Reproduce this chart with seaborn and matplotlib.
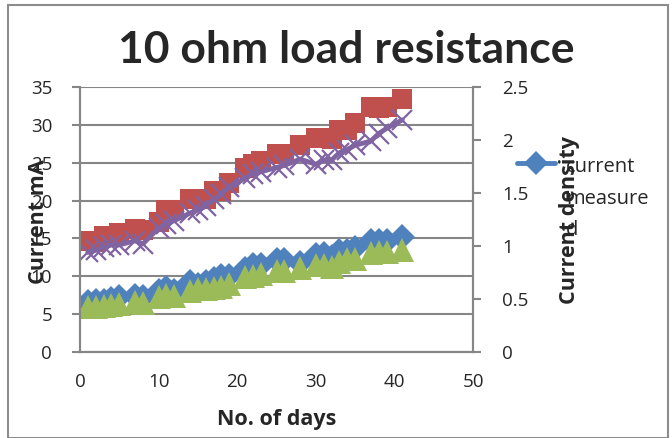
import matplotlib
matplotlib.use("Agg")
import matplotlib.pyplot as plt
import seaborn as sns
import pandas as pd
from matplotlib.lines import Line2D
from matplotlib.patches import Rectangle

# Daily readings for the 10 ohm load
days = [1, 2, 3, 4, 5, 7, 8, 10, 11, 12, 14, 15, 16, 17, 18, 19, 21, 22, 23,
        25, 26, 28, 30, 31, 32, 33, 34, 35, 37, 38, 39, 41]

# Current in mA (left axis)
current_measured = [6.6, 6.8, 6.7, 7.0, 7.2, 7.4, 7.3, 8.0, 8.4, 8.0, 9.2, 8.9,
                    9.2, 9.6, 10.0, 10.1, 11.0, 11.5, 11.5, 12.1, 12.1, 11.7,
                    12.8, 13.0, 12.6, 13.3, 13.4, 13.8, 14.7, 14.7, 14.7, 15.2]
current_calculated = [5.9, 6.0, 6.1, 6.2, 6.3, 6.6, 6.5, 7.2, 7.5, 7.4, 8.0, 8.3,
                      8.3, 8.4, 8.6, 9.0, 9.9, 10.1, 10.3, 10.7, 10.7, 11.1,
                      11.5, 11.5, 11.2, 11.9, 12.3, 12.3, 13.1, 13.2, 13.2, 13.5]

# Current density (right axis)
density_a = [1.05, 1.04, 1.09, 1.09, 1.12, 1.16, 1.15, 1.23, 1.34, 1.34, 1.44,
             1.44, 1.44, 1.52, 1.52, 1.59, 1.74, 1.77, 1.80, 1.87, 1.87, 1.95,
             2.02, 2.02, 2.01, 2.09, 2.09, 2.16, 2.31, 2.30, 2.31, 2.39]
density_b = [0.94, 0.96, 0.99, 1.01, 1.01, 1.05, 1.02, 1.17, 1.21, 1.24, 1.31,
             1.34, 1.38, 1.44, 1.49, 1.56, 1.64, 1.68, 1.70, 1.74, 1.76, 1.82,
             1.77, 1.81, 1.81, 1.88, 1.91, 1.95, 1.99, 2.06, 2.11, 2.19]

left_ticks = [0, 5, 10, 15, 20, 25, 30, 35]
right_ticks = [0, 0.5, 1, 1.5, 2, 2.5]
right_tick_labels = ["0", "0.5", "1", "1.5", "2", "2.5"]
x_ticks = [0, 10, 20, 30, 40, 50]
legend_label = "current\nmeasure\nd"

BLUE = "#4F81BD"
RED = "#C0504D"
GREEN = "#9BBB59"
PURPLE = "#8064A2"
GRID = "#868686"

sns.set_style("white")
plt.rcParams["font.family"] = ["Open Sans", "DejaVu Sans"]

df = pd.DataFrame({
    "day": days,
    "measured": current_measured,
    "calculated": current_calculated,
    "dens_a": density_a,
    "dens_b": density_b,
})

fig = plt.figure(figsize=(6.72, 4.38), dpi=100)
ax = fig.add_axes([80 / 672, 1 - 352 / 438, 393 / 672, 265 / 438])
ax2 = ax.twinx()

sns.lineplot(data=df, x="day", y="calculated", ax=ax, color=GREEN, lw=0,
             marker="^", markersize=17, markeredgewidth=0, zorder=3)
sns.lineplot(data=df, x="day", y="measured", ax=ax, color=BLUE, lw=3.5,
             marker="D", markersize=13, markeredgewidth=0, zorder=2)
sns.lineplot(data=df, x="day", y="dens_a", ax=ax2, color=RED, lw=0,
             marker="s", markersize=15, markeredgewidth=0)
sns.lineplot(data=df, x="day", y="dens_b", ax=ax2, color=PURPLE, lw=3.5,
             marker="x", markersize=15, markeredgewidth=1.6,
             markeredgecolor=PURPLE)

ax.set_xlim(0, 50)
ax.set_ylim(0, 35)
ax2.set_ylim(0, 2.5)
ax.set_xticks(x_ticks)
ax.set_yticks(left_ticks)
ax2.set_yticks(right_ticks)
ax2.set_yticklabels(right_tick_labels)

ax.grid(axis="y", color=GRID, lw=1.5)
ax.set_axisbelow(True)
for a in (ax, ax2):
    a.spines["top"].set_visible(False)
    for side in ("left", "bottom", "right"):
        a.spines[side].set_color(GRID)
        a.spines[side].set_linewidth(1.5)
ax.tick_params(axis="x", direction="out", length=6, width=1.5, color=GRID,
               labelsize=13.5, pad=9)
ax.tick_params(axis="y", direction="out", length=6, width=1.5, color=GRID,
               labelsize=13.5, pad=14)
ax2.tick_params(axis="y", direction="out", length=6, width=1.5, color=GRID,
                labelsize=13.5, pad=15)

ax.set_xlabel("")
ax.set_ylabel("")
ax2.set_ylabel("")
fig.text(277 / 672, 1 - 420 / 438, "No. of days", fontsize=15.5,
         fontweight="bold", ha="center", va="center")
fig.text(38 / 672, 1 - 222 / 438, "Current mA", rotation=90, fontsize=15.5,
         fontweight="bold", ha="center", va="center")
fig.text(570 / 672, 1 - 220 / 438, "Current density", rotation=90,
         fontsize=15.5, fontweight="bold", ha="center", va="center")

fig.text(346 / 672, 1 - 50 / 438, "10 ohm load resistance", fontsize=32,
         fontweight="bold", ha="center", va="center",
         family=["Lato", "DejaVu Sans"])

# Legend: key sits beside the first line of the wrapped label
key_y = 1 - 163 / 438
fig.add_artist(Line2D([517 / 672, 555 / 672], [key_y, key_y],
                      transform=fig.transFigure, color=BLUE, lw=3.5))
fig.add_artist(Line2D([536 / 672], [key_y], transform=fig.transFigure,
                      color=BLUE, marker="D", markersize=12,
                      markeredgewidth=0, lw=0))
fig.text(566 / 672, 1 - 157 / 438, legend_label, fontsize=14.5,
         ha="left", va="top", linespacing=1.78)

fig.patches.append(Rectangle((8 / 672, 0), 660 / 672, 1 - 5 / 438,
                             transform=fig.transFigure, fill=False,
                             edgecolor="#8C8C8C", lw=1.5))

fig.savefig("out.png", dpi=100)
